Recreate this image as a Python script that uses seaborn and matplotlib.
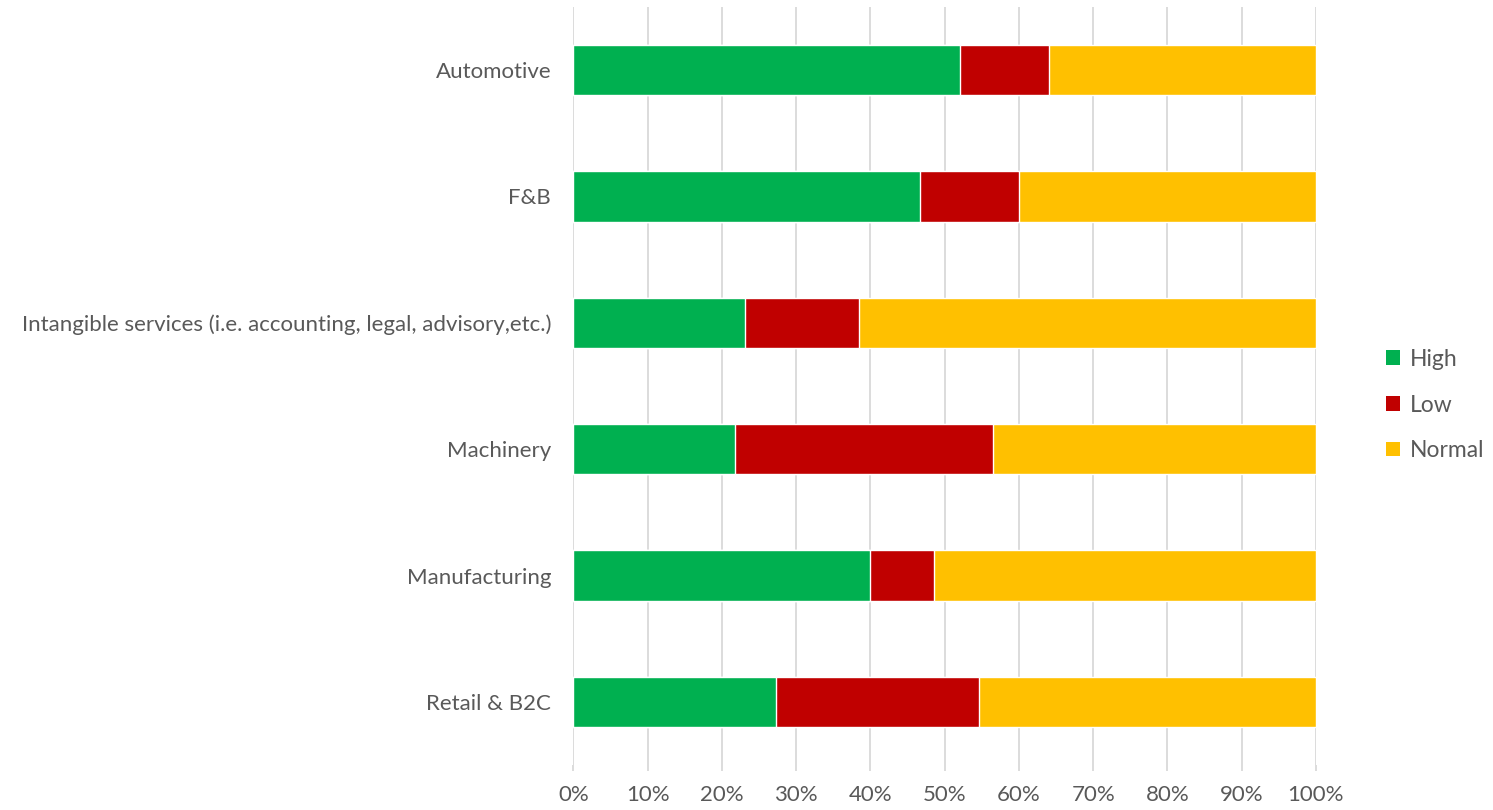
import matplotlib
matplotlib.use("Agg")
import matplotlib.pyplot as plt
from matplotlib.patches import Patch
from matplotlib.ticker import PercentFormatter
import numpy as np
import pandas as pd
import seaborn as sns

sectors = ["Automotive", "F&B",
           "Intangible services (i.e. accounting, legal, advisory,etc.)",
           "Machinery", "Manufacturing", "Retail & B2C"]
high = [52.0, 46.7, 23.1, 21.7, 40.0, 27.3]
low = [12.0, 13.3, 15.4, 34.8, 8.6, 27.3]
normal = [36.0, 40.0, 61.5, 43.5, 51.4, 45.4]

series_names = ["High", "Low", "Normal"]
colors = {"High": "#00b050", "Low": "#c00000", "Normal": "#ffc000"}
text_color = "#595959"
grid_color = "#d9d9d9"

sns.set_theme(style="white")
plt.rcParams["font.family"] = ["Lato", "DejaVu Sans"]

df = pd.DataFrame({"sector": sectors, "High": high, "Low": low, "Normal": normal})
# Cumulative ends so each segment starts where the previous one stops
df["c_high"] = df["High"]
df["c_low"] = df["High"] + df["Low"]
df["c_normal"] = df["c_low"] + df["Normal"]

fig = plt.figure(figsize=(14.93, 8.10), dpi=100)
ax = fig.add_axes([0.3841, 0.0553, 0.4973, 0.9363])

for name, col in [("Normal", "c_normal"), ("Low", "c_low"), ("High", "c_high")]:
    sns.barplot(data=df, x=col, y="sector", orient="h", color=colors[name],
                width=0.4, saturation=1, ax=ax, zorder=3)

ax.set_xlim(0, 100)
ax.set_ylim(5.5, -0.5)
ax.set_xticks(np.arange(0, 101, 10))
ax.xaxis.set_major_formatter(PercentFormatter(decimals=0))
ax.grid(axis="x", color=grid_color, linewidth=1.3, zorder=0)
ax.set_axisbelow(True)
for s in ax.spines.values():
    s.set_visible(False)
ax.set_xlabel("")
ax.set_ylabel("")
ax.tick_params(axis="x", colors=text_color, labelsize=16, length=4, width=1.3,
               pad=10, bottom=True, color=grid_color)
ax.tick_params(axis="y", colors=text_color, labelsize=16, length=0, pad=16)

handles = [Patch(facecolor=colors[n], edgecolor="none") for n in series_names]
fig.legend(handles, series_names, loc="center left", bbox_to_anchor=(0.9145, 0.5),
           frameon=False, fontsize=16.5, labelcolor=text_color, handlelength=0.6,
           handleheight=0.6, handletextpad=0.45, labelspacing=1.08)

fig.savefig("out.png", dpi=100, facecolor="white")
